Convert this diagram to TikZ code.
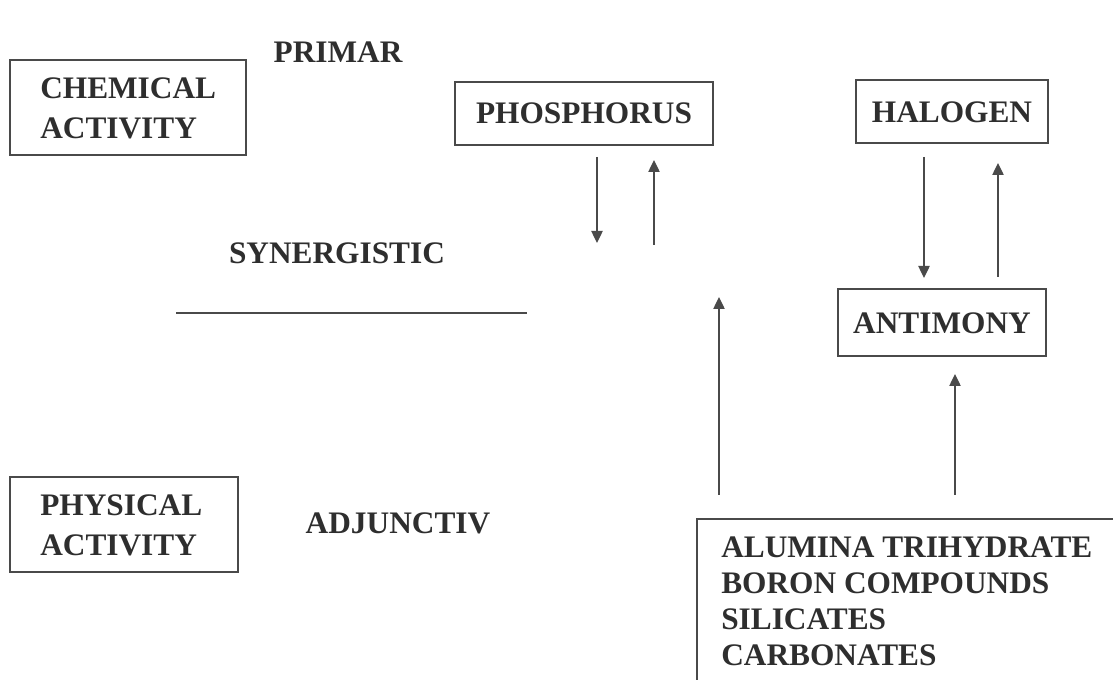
\documentclass[tikz,border=0pt]{standalone}
\usepackage{fontspec}
\setmainfont{Liberation Serif}
\usetikzlibrary{arrows.meta}
\definecolor{ink}{HTML}{2E2E2E}
\definecolor{edge}{HTML}{4A4A4A}
\begin{document}
\begin{tikzpicture}[x=0.75pt,y=-0.75pt,
  lbl/.style={font=\fontsize{23.5}{30}\selectfont\bfseries, text=ink, inner sep=0pt},
  boxed/.style={draw=edge, line width=1.1pt},
  conn/.style={draw=edge, line width=1pt, -{Triangle[length=9pt,width=8.5pt]}}]
\useasboundingbox (0,0) rectangle (1115,680);
% boxes
\draw[boxed] (10,60) rectangle (246,155);
\node[lbl, align=left, anchor=west] (chem) at (40,108) {CHEMICAL\\ACTIVITY};
\draw[boxed] (455,82) rectangle (713,145);
\node[lbl] (phos) at (584,113) {PHOSPHORUS};
\draw[boxed] (856,80) rectangle (1048,143);
\node[lbl] (halo) at (952,112) {HALOGEN};
\draw[boxed] (838,289) rectangle (1046,356);
\node[lbl] (anti) at (942,323) {ANTIMONY};
\draw[boxed] (10,477) rectangle (238,572);
\node[lbl, align=left, anchor=west] (phys) at (40,525) {PHYSICAL\\ACTIVITY};
\draw[boxed] (697,680) -- (697,519) -- (1113,519);
\node[lbl, align=left, anchor=north west, font=\fontsize{23.5}{27}\selectfont\bfseries] (list) at (721,537)
  {ALUMINA TRIHYDRATE\\BORON COMPOUNDS\\SILICATES\\CARBONATES};
% free labels
\node[lbl] (prim) at (338,52) {PRIMAR};
\node[lbl] (syn) at (337,253) {SYNERGISTIC};
\node[lbl] (adj) at (398,523) {ADJUNCTIV};
% line
\coordinate (l1) at (176,313);
\coordinate (l2) at (527,313);
\draw[draw=edge, line width=1.1pt] (l1) -- (l2);
% arrow end points
\coordinate (pd1) at (597,157); \coordinate (pd2) at (597,243);
\coordinate (pu1) at (654,245); \coordinate (pu2) at (654,160);
\coordinate (au1) at (719,495); \coordinate (au2) at (719,297);
\coordinate (hd1) at (924,157); \coordinate (hd2) at (924,278);
\coordinate (hu1) at (998,277); \coordinate (hu2) at (998,163);
\coordinate (su1) at (955,495); \coordinate (su2) at (955,374);
\draw[conn] (pd1) -- (pd2);
\draw[conn] (pu1) -- (pu2);
\draw[conn] (au1) -- (au2);
\draw[conn] (hd1) -- (hd2);
\draw[conn] (hu1) -- (hu2);
\draw[conn] (su1) -- (su2);
\end{tikzpicture}
\end{document}
